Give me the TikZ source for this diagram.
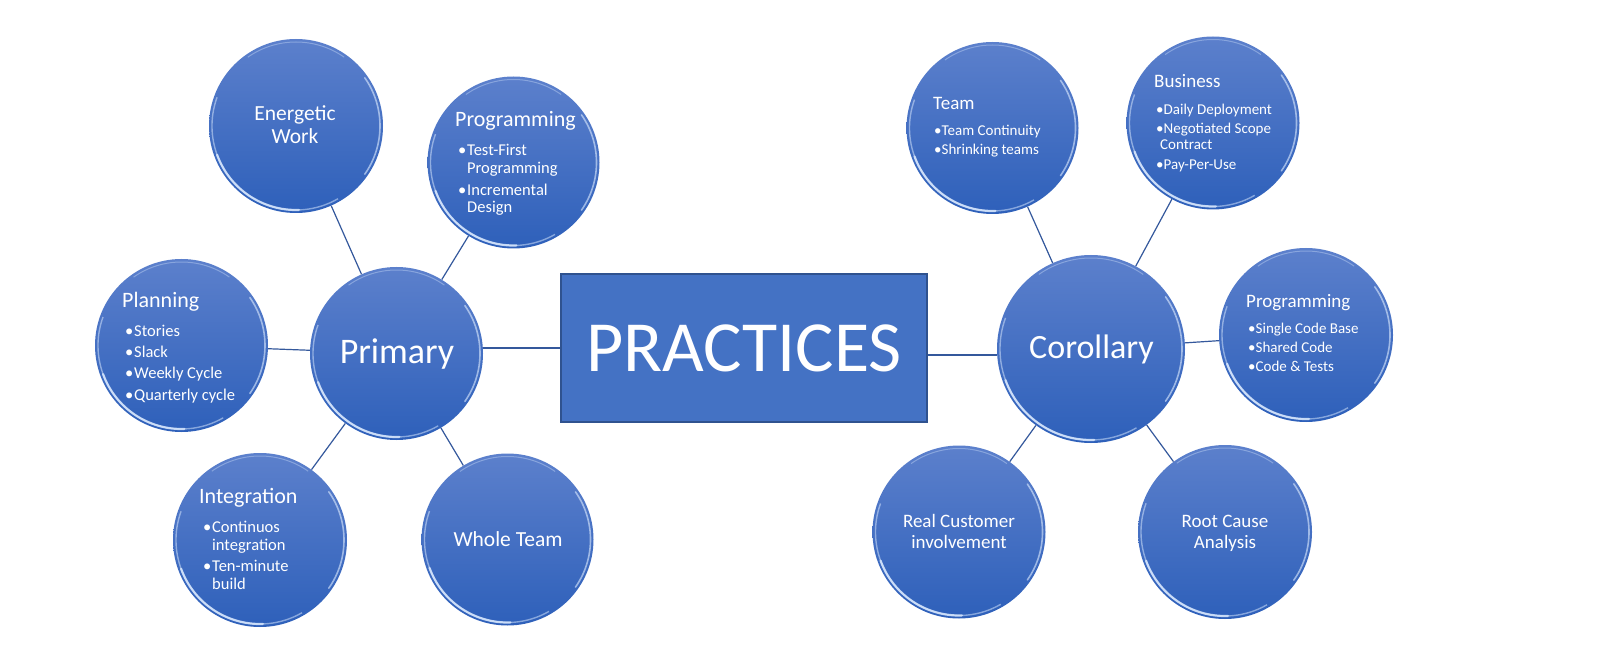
\documentclass[tikz,border=0pt]{standalone}
\usepackage{fontspec}
\setmainfont{Carlito}
\usetikzlibrary{shadings}
\definecolor{ctop}{RGB}{92,128,204}
\definecolor{cbot}{RGB}{46,96,186}
\definecolor{rectfill}{RGB}{68,114,196}
\definecolor{rectline}{RGB}{47,82,143}
\definecolor{linkc}{RGB}{52,88,156}
\definecolor{hl}{RGB}{222,236,255}
\tikzset{
  bub/.style={circle, inner sep=0pt, minimum size=#1, top color=ctop, bottom color=cbot, draw=none},
  bub/.default=173pt,
  conn/.style={draw=linkc, line width=1.2pt},
  txt/.style={text=white, inner sep=0pt, anchor=base west},
  ctr/.style={text=white, inner sep=0pt, anchor=base},
  ttl/.style={font=\fontsize{22}{26}\selectfont},
  itm/.style={font=\fontsize{16.5}{20}\selectfont},
  rttl/.style={font=\fontsize{19}{23}\selectfont},
  ritm/.style={font=\fontsize{15}{18}\selectfont},
  mid/.style={font=\fontsize{21.5}{25}\selectfont},
  rmid/.style={font=\fontsize{19}{23}\selectfont},
  big/.style={font=\fontsize{36}{40}\selectfont},
}
\newcommand\bev[2]{%
  \draw[hl, line width=1.4pt, opacity=0.5] ([shift={(160:#2)}]#1.center) arc[start angle=160, end angle=300, radius=#2];
  \draw[hl, line width=2.2pt, opacity=0.8, line cap=round] ([shift={(200:#2)}]#1.center) arc[start angle=200, end angle=272, radius=#2];
  \draw[hl, line width=1.6pt, opacity=0.6, line cap=round] ([shift={(-35:#2)}]#1.center) arc[start angle=-35, end angle=35, radius=#2];
  \draw[hl, line width=1pt, opacity=0.35] ([shift={(55:#2)}]#1.center) arc[start angle=55, end angle=125, radius=#2];
}
\newcommand\bul{\makebox[9pt][l]{•}}
\begin{document}
\begin{tikzpicture}[x=1pt, y=1pt]
\fill[white] (0,0) rectangle (1618,-668);
\useasboundingbox (0,0) rectangle (1618,-668);

% left cluster
\node[bub=174pt] (ew) at (296,-126) {};
\node[bub=172pt] (pgl) at (513.5,-162.5) {};
\node[bub=173pt] (pln) at (181.5,-345.5) {};
\node[bub=173pt] (pri) at (396.5,-353.5) {};
\node[bub=174pt] (int) at (260,-540) {};
\node[bub=172pt] (wt) at (507.5,-539.5) {};
% right cluster
\node[bub=172pt] (tm) at (992.5,-128) {};
\node[bub=173pt] (bus) at (1213,-123) {};
\node[bub=174pt] (pgr) at (1306,-335) {};
\node[bub=188pt] (cor) at (1091,-349) {};
\node[bub=173pt] (rc) at (959,-532) {};
\node[bub=174pt] (rca) at (1225,-532) {};
% center box
\node[rectangle, minimum width=366pt, minimum height=148pt, fill=rectfill, draw=rectline, line width=1.2pt, text=white, inner sep=0pt, font=\fontsize{72}{80}\selectfont] (prac) at (744,-348) {PRACTICES};

\bev{ew}{84pt}
\bev{pgl}{83pt}
\bev{pln}{83.5pt}
\bev{pri}{83.5pt}
\bev{int}{84pt}
\bev{wt}{83pt}
\bev{tm}{83pt}
\bev{bus}{83.5pt}
\bev{pgr}{84pt}
\bev{cor}{91pt}
\bev{rc}{83.5pt}
\bev{rca}{84pt}

% connectors
\draw[conn] (ew) -- (pri);
\draw[conn] (pgl) -- (pri);
\draw[conn] (pln) -- (pri);
\draw[conn] (int) -- (pri);
\draw[conn] (wt) -- (pri);
\draw[conn] (prac.west) -- (prac.west -| pri.east);
\draw[conn] ([yshift=-7pt]prac.east) -- ([yshift=-7pt]prac.east -| cor.west);
\draw[conn] (tm) -- (cor);
\draw[conn] (bus) -- (cor);
\draw[conn] (pgr) -- (cor);
\draw[conn] (rc) -- (cor);
\draw[conn] (rca) -- (cor);

% texts
\node[ctr, big] (prit) at (397,-364) {Primary};
\node[ctr, font=\fontsize{34}{40}\selectfont] (cort) at (1091.5,-359) {Corollary};

\node[ctr, mid] (ew1) at (295,-121) {Energetic};
\node[ctr, mid] (ew2) at (295,-144) {Work};

\node[txt, ttl] (pgl0) at (455,-127) {Programming};
\node[txt, itm] (pgl1) at (458,-156) {\bul Test-First};
\node[txt, itm] (pgl2) at (467,-174) {Programming};
\node[txt, itm] (pgl3) at (458,-196) {\bul Incremental};
\node[txt, itm] (pgl4) at (467,-213) {Design};

\node[txt, ttl] (pln0) at (122,-308) {Planning};
\node[txt, itm] (pln1) at (125,-337) {\bul Stories};
\node[txt, itm] (pln2) at (125,-358) {\bul Slack};
\node[txt, itm] (pln3) at (125,-379) {\bul Weekly Cycle};
\node[txt, itm] (pln4) at (125,-400) {\bul Quarterly cycle};

\node[txt, ttl] (int0) at (199,-503) {Integration};
\node[txt, itm] (int1) at (203,-532) {\bul Continuos};
\node[txt, itm] (int2) at (212,-550) {integration};
\node[txt, itm] (int3) at (203,-571) {\bul Ten-minute};
\node[txt, itm] (int4) at (212,-589) {build};

\node[ctr, mid] (wt1) at (508,-546) {Whole Team};

\node[txt, rttl] (tm0) at (933,-110) {Team};
\node[txt, ritm] (tm1) at (934,-136) {•Team Continuity};
\node[txt, ritm] (tm2) at (934,-155) {•Shrinking teams};

\node[txt, rttl] (bus0) at (1154,-88) {Business};
\node[txt, ritm] (bus1) at (1156,-115) {•Daily Deployment};
\node[txt, ritm] (bus2) at (1156,-134) {•Negotiated Scope};
\node[txt, ritm] (bus3) at (1160,-150) {Contract};
\node[txt, ritm] (bus4) at (1156,-170) {•Pay-Per-Use};

\node[txt, rttl] (pgr0) at (1246,-308) {Programming};
\node[txt, ritm] (pgr1) at (1248,-334) {•Single Code Base};
\node[txt, ritm] (pgr2) at (1248,-353) {•Shared Code};
\node[txt, ritm] (pgr3) at (1248,-372) {•Code \& Tests};

\node[ctr, rmid] (rc1) at (959,-527) {Real Customer};
\node[ctr, rmid] (rc2) at (959,-548) {involvement};

\node[ctr, rmid] (rca1) at (1225,-527) {Root Cause};
\node[ctr, rmid] (rca2) at (1225,-548) {Analysis};
\end{tikzpicture}
\end{document}
